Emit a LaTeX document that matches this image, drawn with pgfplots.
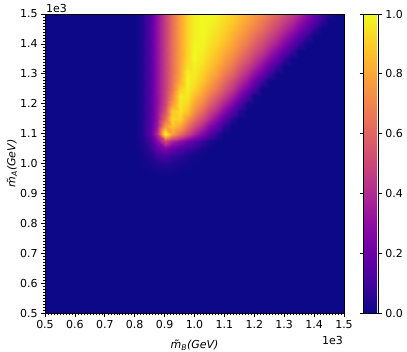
\documentclass[border=0pt]{standalone}
\usepackage{fontspec}
\setmainfont{DejaVu Sans}
\usepackage{pgfplots}
\pgfplotsset{compat=1.18}
\pgfplotsset{colormap={plasma}{rgb255=(13,8,135) rgb255=(65,4,157) rgb255=(106,0,168)
  rgb255=(143,13,164) rgb255=(177,42,144) rgb255=(204,71,120) rgb255=(225,100,98)
  rgb255=(242,132,75) rgb255=(252,166,54) rgb255=(252,206,37) rgb255=(240,249,33)}}
\begin{document}
\fontsize{11}{13}\selectfont
\begin{tikzpicture}
\begin{axis}[
  scale only axis, width=299pt, height=299pt,
  xmin=500, xmax=1500, ymin=500, ymax=1500, enlargelimits=false,
  clip mode=individual,
  colormap name=plasma, point meta min=0, point meta max=1,
  xtick={500,600,...,1500},
  xticklabels={0.5,0.6,0.7,0.8,0.9,1.0,1.1,1.2,1.3,1.4,1.5},
  ytick={500,600,...,1500},
  yticklabels={0.5,0.6,0.7,0.8,0.9,1.0,1.1,1.2,1.3,1.4,1.5},
  minor tick num=9, tick pos=left, tick align=outside,
  major tick length=3.5pt, minor tick length=2pt,
  every tick/.style={black, line width=0.7pt},
  minor tick style={line width=0.5pt},
  axis line style={line width=0.8pt},
  tick label style={font=\fontsize{11}{13}\selectfont},
  label style={font=\fontsize{11}{13}\selectfont},
  xlabel={\itshape \~{m}\textsubscript{B}(GeV)},
  ylabel={\itshape \~{m}\textsubscript{A}(GeV)},
  xlabel style={at={(axis description cs:0.5,0)}, anchor=center, yshift=-32pt},
  ylabel style={at={(axis description cs:0,0.5)}, anchor=center, yshift=33pt},
  axis on top,
  colorbar,
  colorbar shift/.style={},
  colorbar style={
    width=15pt, at={(parent axis.north east)}, anchor=north west, xshift=19pt,
    ytick={0,0.2,0.4,0.6,0.8,1}, yticklabels={0.0,0.2,0.4,0.6,0.8,1.0},
    minor tick num=0, tick align=outside, major tick length=3.5pt,
    every tick/.style={black, line width=0.7pt},
    axis line style={line width=0.8pt},
    tick label style={font=\fontsize{11}{13}\selectfont},
  },
]
\addplot[surf, shader=interp, mesh/cols=30, mesh/rows=24, point meta=explicit] table[meta=z] {
x y z
500 500 0
800 500 0
825 500 0
850 500 0
875 500 0
900 500 0
925 500 0
950 500 0
975 500 0
1000 500 0
1025 500 0
1050 500 0
1075 500 0
1100 500 0
1125 500 0
1150 500 0
1175 500 0
1200 500 0
1225 500 0
1250 500 0
1275 500 0
1300 500 0
1325 500 0
1350 500 0
1375 500 0
1400 500 0
1425 500 0
1450 500 0
1475 500 0
1500 500 0
500 950 0
800 950 0
825 950 0
850 950 0
875 950 0
900 950 0
925 950 0
950 950 0
975 950 0
1000 950 0
1025 950 0
1050 950 0
1075 950 0
1100 950 0
1125 950 0
1150 950 0
1175 950 0
1200 950 0
1225 950 0
1250 950 0
1275 950 0
1300 950 0
1325 950 0
1350 950 0
1375 950 0
1400 950 0
1425 950 0
1450 950 0
1475 950 0
1500 950 0
500 975 0
800 975 0
825 975 0
850 975 0.005
875 975 0.012
900 975 0.015
925 975 0.01
950 975 0.005
975 975 0
1000 975 0
1025 975 0
1050 975 0
1075 975 0
1100 975 0
1125 975 0
1150 975 0
1175 975 0
1200 975 0
1225 975 0
1250 975 0
1275 975 0
1300 975 0
1325 975 0
1350 975 0
1375 975 0
1400 975 0
1425 975 0
1450 975 0
1475 975 0
1500 975 0
500 1000 0
800 1000 0
825 1000 0.004
850 1000 0.016
875 1000 0.04
900 1000 0.05
925 1000 0.03
950 1000 0.02
975 1000 0.01
1000 1000 0
1025 1000 0
1050 1000 0
1075 1000 0
1100 1000 0
1125 1000 0
1150 1000 0
1175 1000 0
1200 1000 0
1225 1000 0
1250 1000 0
1275 1000 0
1300 1000 0
1325 1000 0
1350 1000 0
1375 1000 0
1400 1000 0
1425 1000 0
1450 1000 0
1475 1000 0
1500 1000 0
500 1025 0
800 1025 0
825 1025 0.01
850 1025 0.04
875 1025 0.10
900 1025 0.12
925 1025 0.08
950 1025 0.055
975 1025 0.03
1000 1025 0.01
1025 1025 0
1050 1025 0
1075 1025 0
1100 1025 0
1125 1025 0
1150 1025 0
1175 1025 0
1200 1025 0
1225 1025 0
1250 1025 0
1275 1025 0
1300 1025 0
1325 1025 0
1350 1025 0
1375 1025 0
1400 1025 0
1425 1025 0
1450 1025 0
1475 1025 0
1500 1025 0
500 1050 0
800 1050 0
825 1050 0.02
850 1050 0.07
875 1050 0.18
900 1050 0.25
925 1050 0.18
950 1050 0.13
975 1050 0.09
1000 1050 0.06
1025 1050 0.02
1050 1050 0
1075 1050 0
1100 1050 0
1125 1050 0
1150 1050 0
1175 1050 0
1200 1050 0
1225 1050 0
1250 1050 0
1275 1050 0
1300 1050 0
1325 1050 0
1350 1050 0
1375 1050 0
1400 1050 0
1425 1050 0
1450 1050 0
1475 1050 0
1500 1050 0
500 1075 0
800 1075 0
825 1075 0.03
850 1075 0.11
875 1075 0.28
900 1075 0.50
925 1075 0.38
950 1075 0.30
975 1075 0.22
1000 1075 0.16
1025 1075 0.09
1050 1075 0.03
1075 1075 0
1100 1075 0
1125 1075 0
1150 1075 0
1175 1075 0
1200 1075 0
1225 1075 0
1250 1075 0
1275 1075 0
1300 1075 0
1325 1075 0
1350 1075 0
1375 1075 0
1400 1075 0
1425 1075 0
1450 1075 0
1475 1075 0
1500 1075 0
500 1100 0
800 1100 0
825 1100 0.04
850 1100 0.16
875 1100 0.40
900 1100 1.00
925 1100 0.78
950 1100 0.63
975 1100 0.50
1000 1100 0.38
1025 1100 0.27
1050 1100 0.16
1075 1100 0.06
1100 1100 0
1125 1100 0
1150 1100 0
1175 1100 0
1200 1100 0
1225 1100 0
1250 1100 0
1275 1100 0
1300 1100 0
1325 1100 0
1350 1100 0
1375 1100 0
1400 1100 0
1425 1100 0
1450 1100 0
1475 1100 0
1500 1100 0
500 1125 0
800 1125 0
825 1125 0.04
850 1125 0.15
875 1125 0.35
900 1125 0.76
925 1125 0.88
950 1125 0.80
975 1125 0.65
1000 1125 0.52
1025 1125 0.40
1050 1125 0.28
1075 1125 0.17
1100 1125 0.06
1125 1125 0
1150 1125 0
1175 1125 0
1200 1125 0
1225 1125 0
1250 1125 0
1275 1125 0
1300 1125 0
1325 1125 0
1350 1125 0
1375 1125 0
1400 1125 0
1425 1125 0
1450 1125 0
1475 1125 0
1500 1125 0
500 1150 0
800 1150 0
825 1150 0.04
850 1150 0.14
875 1150 0.32
900 1150 0.62
925 1150 0.92
950 1150 0.91
975 1150 0.76
1000 1150 0.63
1025 1150 0.51
1050 1150 0.40
1075 1150 0.28
1100 1150 0.16
1125 1150 0.05
1150 1150 0
1175 1150 0
1200 1150 0
1225 1150 0
1250 1150 0
1275 1150 0
1300 1150 0
1325 1150 0
1350 1150 0
1375 1150 0
1400 1150 0
1425 1150 0
1450 1150 0
1475 1150 0
1500 1150 0
500 1175 0
800 1175 0
825 1175 0.04
850 1175 0.14
875 1175 0.31
900 1175 0.54
925 1175 0.88
950 1175 0.95
975 1175 0.88
1000 1175 0.74
1025 1175 0.62
1050 1175 0.50
1075 1175 0.39
1100 1175 0.28
1125 1175 0.16
1150 1175 0.05
1175 1175 0
1200 1175 0
1225 1175 0
1250 1175 0
1275 1175 0
1300 1175 0
1325 1175 0
1350 1175 0
1375 1175 0
1400 1175 0
1425 1175 0
1450 1175 0
1475 1175 0
1500 1175 0
500 1200 0
800 1200 0
825 1200 0.04
850 1200 0.14
875 1200 0.30
900 1200 0.49
925 1200 0.76
950 1200 0.96
975 1200 0.92
1000 1200 0.80
1025 1200 0.70
1050 1200 0.59
1075 1200 0.48
1100 1200 0.37
1125 1200 0.26
1150 1200 0.14
1175 1200 0.02
1200 1200 0
1225 1200 0
1250 1200 0
1275 1200 0
1300 1200 0
1325 1200 0
1350 1200 0
1375 1200 0
1400 1200 0
1425 1200 0
1450 1200 0
1475 1200 0
1500 1200 0
500 1225 0
800 1225 0
825 1225 0.04
850 1225 0.14
875 1225 0.30
900 1225 0.48
925 1225 0.70
950 1225 0.97
975 1225 0.96
1000 1225 0.86
1025 1225 0.77
1050 1225 0.67
1075 1225 0.57
1100 1225 0.47
1125 1225 0.36
1150 1225 0.25
1175 1225 0.13
1200 1225 0.01
1225 1225 0
1250 1225 0
1275 1225 0
1300 1225 0
1325 1225 0
1350 1225 0
1375 1225 0
1400 1225 0
1425 1225 0
1450 1225 0
1475 1225 0
1500 1225 0
500 1250 0
800 1250 0
825 1250 0.04
850 1250 0.14
875 1250 0.30
900 1250 0.47
925 1250 0.65
950 1250 0.90
975 1250 0.98
1000 1250 0.92
1025 1250 0.83
1050 1250 0.74
1075 1250 0.65
1100 1250 0.55
1125 1250 0.45
1150 1250 0.34
1175 1250 0.23
1200 1250 0.12
1225 1250 0
1250 1250 0
1275 1250 0
1300 1250 0
1325 1250 0
1350 1250 0
1375 1250 0
1400 1250 0
1425 1250 0
1450 1250 0
1475 1250 0
1500 1250 0
500 1275 0
800 1275 0
825 1275 0.04
850 1275 0.14
875 1275 0.30
900 1275 0.47
925 1275 0.64
950 1275 0.83
975 1275 0.99
1000 1275 0.95
1025 1275 0.88
1050 1275 0.80
1075 1275 0.71
1100 1275 0.62
1125 1275 0.52
1150 1275 0.42
1175 1275 0.32
1200 1275 0.21
1225 1275 0.09
1250 1275 0
1275 1275 0
1300 1275 0
1325 1275 0
1350 1275 0
1375 1275 0
1400 1275 0
1425 1275 0
1450 1275 0
1475 1275 0
1500 1275 0
500 1300 0
800 1300 0
825 1300 0.04
850 1300 0.14
875 1300 0.30
900 1300 0.47
925 1300 0.63
950 1300 0.80
975 1300 0.98
1000 1300 0.97
1025 1300 0.91
1050 1300 0.84
1075 1300 0.77
1100 1300 0.68
1125 1300 0.60
1150 1300 0.50
1175 1300 0.40
1200 1300 0.30
1225 1300 0.20
1250 1300 0.09
1275 1300 0
1300 1300 0
1325 1300 0
1350 1300 0
1375 1300 0
1400 1300 0
1425 1300 0
1450 1300 0
1475 1300 0
1500 1300 0
500 1325 0
800 1325 0
825 1325 0.04
850 1325 0.14
875 1325 0.30
900 1325 0.47
925 1325 0.63
950 1325 0.80
975 1325 0.94
1000 1325 0.98
1025 1325 0.94
1050 1325 0.88
1075 1325 0.81
1100 1325 0.74
1125 1325 0.66
1150 1325 0.57
1175 1325 0.48
1200 1325 0.39
1225 1325 0.29
1250 1325 0.19
1275 1325 0.09
1300 1325 0
1325 1325 0
1350 1325 0
1375 1325 0
1400 1325 0
1425 1325 0
1450 1325 0
1475 1325 0
1500 1325 0
500 1350 0
800 1350 0
825 1350 0.04
850 1350 0.14
875 1350 0.30
900 1350 0.47
925 1350 0.63
950 1350 0.79
975 1350 0.92
1000 1350 1.00
1025 1350 0.96
1050 1350 0.91
1075 1350 0.85
1100 1350 0.78
1125 1350 0.71
1150 1350 0.63
1175 1350 0.55
1200 1350 0.46
1225 1350 0.37
1250 1350 0.28
1275 1350 0.18
1300 1350 0.08
1325 1350 0
1350 1350 0
1375 1350 0
1400 1350 0
1425 1350 0
1450 1350 0
1475 1350 0
1500 1350 0
500 1375 0
800 1375 0
825 1375 0.04
850 1375 0.14
875 1375 0.30
900 1375 0.47
925 1375 0.63
950 1375 0.79
975 1375 0.91
1000 1375 1.00
1025 1375 0.98
1050 1375 0.93
1075 1375 0.88
1100 1375 0.82
1125 1375 0.76
1150 1375 0.69
1175 1375 0.61
1200 1375 0.53
1225 1375 0.45
1250 1375 0.36
1275 1375 0.27
1300 1375 0.18
1325 1375 0.08
1350 1375 0
1375 1375 0
1400 1375 0
1425 1375 0
1450 1375 0
1475 1375 0
1500 1375 0
500 1400 0
800 1400 0
825 1400 0.04
850 1400 0.14
875 1400 0.30
900 1400 0.47
925 1400 0.63
950 1400 0.79
975 1400 0.91
1000 1400 0.99
1025 1400 0.99
1050 1400 0.95
1075 1400 0.91
1100 1400 0.86
1125 1400 0.80
1150 1400 0.73
1175 1400 0.66
1200 1400 0.59
1225 1400 0.51
1250 1400 0.43
1275 1400 0.35
1300 1400 0.26
1325 1400 0.17
1350 1400 0.08
1375 1400 0
1400 1400 0
1425 1400 0
1450 1400 0
1475 1400 0
1500 1400 0
500 1425 0
800 1425 0
825 1425 0.04
850 1425 0.14
875 1425 0.30
900 1425 0.47
925 1425 0.63
950 1425 0.79
975 1425 0.91
1000 1425 0.98
1025 1425 1.00
1050 1425 0.97
1075 1425 0.93
1100 1425 0.89
1125 1425 0.83
1150 1425 0.77
1175 1425 0.71
1200 1425 0.64
1225 1425 0.57
1250 1425 0.50
1275 1425 0.42
1300 1425 0.34
1325 1425 0.25
1350 1425 0.165
1375 1425 0.075
1400 1425 0
1425 1425 0
1450 1425 0
1475 1425 0
1500 1425 0
500 1450 0
800 1450 0
825 1450 0.04
850 1450 0.14
875 1450 0.30
900 1450 0.47
925 1450 0.63
950 1450 0.79
975 1450 0.91
1000 1450 0.98
1025 1450 1.00
1050 1450 0.98
1075 1450 0.95
1100 1450 0.91
1125 1450 0.86
1150 1450 0.81
1175 1450 0.75
1200 1450 0.69
1225 1450 0.63
1250 1450 0.56
1275 1450 0.48
1300 1450 0.41
1325 1450 0.33
1350 1450 0.245
1375 1450 0.16
1400 1450 0.07
1425 1450 0
1450 1450 0
1475 1450 0
1500 1450 0
500 1475 0
800 1475 0
825 1475 0.04
850 1475 0.14
875 1475 0.30
900 1475 0.47
925 1475 0.63
950 1475 0.79
975 1475 0.91
1000 1475 0.98
1025 1475 1.00
1050 1475 0.99
1075 1475 0.965
1100 1475 0.93
1125 1475 0.89
1150 1475 0.84
1175 1475 0.79
1200 1475 0.735
1225 1475 0.67
1250 1475 0.61
1275 1475 0.54
1300 1475 0.47
1325 1475 0.40
1350 1475 0.32
1375 1475 0.23
1400 1475 0.15
1425 1475 0.06
1450 1475 0
1475 1475 0
1500 1475 0
500 1500 0
800 1500 0
825 1500 0.04
850 1500 0.14
875 1500 0.30
900 1500 0.47
925 1500 0.63
950 1500 0.79
975 1500 0.91
1000 1500 0.98
1025 1500 1.00
1050 1500 1.00
1075 1500 0.98
1100 1500 0.95
1125 1500 0.91
1150 1500 0.87
1175 1500 0.82
1200 1500 0.77
1225 1500 0.72
1250 1500 0.66
1275 1500 0.60
1300 1500 0.53
1325 1500 0.46
1350 1500 0.39
1375 1500 0.29
1400 1500 0.20
1425 1500 0.11
1450 1500 0.04
1475 1500 0
1500 1500 0
};
\node[anchor=south west, inner sep=1pt] at (rel axis cs:0,1) {1e3};
\node[anchor=north east, inner sep=1pt] at (rel axis cs:1,0) [yshift=-22pt] {1e3};
\end{axis}
\pgfresetboundingbox
\path[use as bounding box] (-45pt,-38pt) rectangle (362pt,313pt);
\end{tikzpicture}
\end{document}
